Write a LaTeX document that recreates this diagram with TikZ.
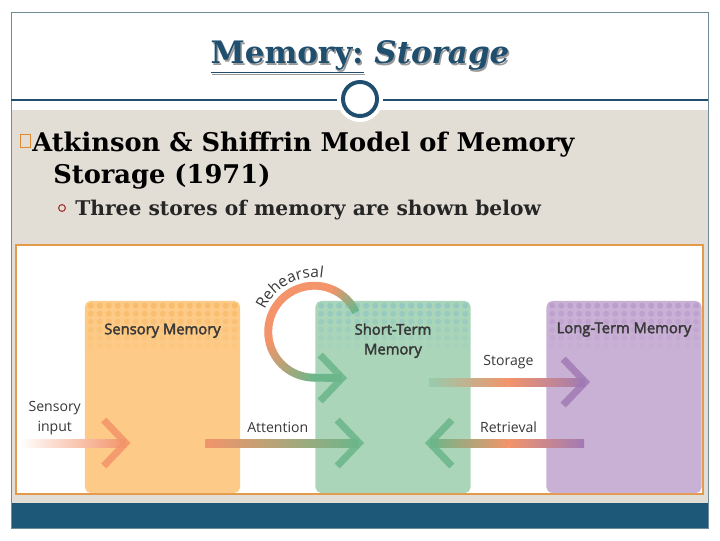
\documentclass[tikz,border=0pt]{standalone}
\usepackage{fontspec}
\setmainfont{DejaVu Serif}
\newfontfamily\labelfont{Open Sans}
\newfontfamily\boxfont[FakeBold=2.5]{Open Sans}
\usetikzlibrary{calc, positioning, decorations.text}

\definecolor{titleblue}{HTML}{1F4E6E}
\definecolor{barblue}{HTML}{1E5878}
\definecolor{slidebeige}{HTML}{E2DED5}
\definecolor{slideframe}{HTML}{6F8A99}
\definecolor{bulletorange}{HTML}{E08A30}
\definecolor{bulletred}{HTML}{A03838}
\definecolor{figframe}{HTML}{E39A4C}
\definecolor{smfill}{HTML}{FDCB87}
\definecolor{smdot}{HTML}{F8B764}
\definecolor{stmfill}{HTML}{AAD5B9}
\definecolor{stmdot}{HTML}{8CC6C3}
\definecolor{ltmfill}{HTML}{C9B1D6}
\definecolor{ltmdot}{HTML}{B898CA}
\definecolor{arroworange}{HTML}{F3946A}
\definecolor{arrowgreen}{HTML}{6BB68A}
\definecolor{arrowpurple}{HTML}{A07AB5}
\definecolor{labeltext}{HTML}{383838}

\tikzset{
  membox/.style={rounded corners=4pt, minimum width=3.875cm, minimum height=4.8cm, inner sep=0pt},
  boxlabel/.style={font=\boxfont\fontsize{10.5}{14}\selectfont, text=labeltext, align=center},
  arrowlabel/.style={font=\labelfont\fontsize{10}{14}\selectfont, text=labeltext, align=center},
  bodytext/.style={font=\bfseries\fontsize{18.3}{21}\selectfont, text=black, inner sep=0pt},
  subtext/.style={font=\bfseries\fontsize{14.4}{17}\selectfont, text=black!85, inner sep=0pt},
  chevron/.style={line width=5pt, line join=miter, opacity=0.85},
}

% dotted band on top of a store
\newcommand{\memdots}[2]{%
  \foreach \row [evaluate=\row as \op using 0.75-0.12*\row] in {0,...,5}
    \foreach \col in {0,...,16}
      \fill[#2, opacity=\op] ($(#1.north west)+(6+\col*9,-5-\row*8)$) circle (3);
}
% shaded arrow shaft
\newcommand{\shaft}[3]{\shade[#3] ($(#1)+(0,-4)$) rectangle ($(#2)+(0,4)$);}
% open arrow head
\newcommand{\chev}[3]{\draw[chevron, #3] ($(#1)+(#2,23)$) -- (#1) -- ($(#1)+(#2,-23)$);}

\begin{document}
\begin{tikzpicture}[x=0.025cm, y=0.025cm]
\useasboundingbox (0,0) rectangle (720,540);
% slide
\fill[white] (0,0) rectangle (720,540);
\fill[slidebeige] (11,37) rectangle (708,430);
\fill[barblue] (11,12) rectangle (708,37);
\draw[slideframe, line width=0.6pt] (11,12) rectangle (708,528);
\draw[titleblue, line width=0.8pt] (11,440) -- (708,440);
\node[circle, fill=white, minimum size=1.15cm] (halo) at (360,441) {};
\node[circle, draw=titleblue, line width=2.8pt, fill=white, minimum size=0.85cm] (ring) at (360,441) {};

% title
\node[font=\bfseries\fontsize{22}{26}\selectfont, text=black!40] (title-shadow) at (361.5,481.5) {\underline{Memory:} \textit{Storage}};
\node[font=\bfseries\fontsize{22}{26}\selectfont, text=titleblue] (title) at (360,483) {\underline{Memory:} \textit{Storage}};

% bullets
\node[draw=bulletorange, line width=0.9pt, minimum width=0.26cm, minimum height=0.34cm, inner sep=0pt] (sq) at (25.5,399) {};
\node[bodytext, anchor=base west] (line1) at (32,388) {Atkinson \& Shiffrin Model of Memory};
\node[bodytext, anchor=base west] (line2) at (53,356) {Storage (1971)};
\node[circle, draw=bulletred, line width=0.8pt, minimum size=0.17cm, inner sep=0pt] (subdot) at (62,332) {};
\node[subtext, anchor=base west] (line3) at (75,324) {Three stores of memory are shown below};

% figure
\draw[figframe, line width=2pt, fill=white] (16,46) rectangle (703,295);
\node[membox, fill=smfill] (sm) at (162.5,143) {};
\node[membox, fill=stmfill] (stm) at (393,143) {};
\node[membox, fill=ltmfill] (ltm) at (624,143) {};
\memdots{sm}{smdot}
\memdots{stm}{stmdot}
\memdots{ltm}{ltmdot}
\node[boxlabel] (sm-label) at ($(sm.north)+(0,-30)$) {Sensory Memory};
\node[boxlabel] (stm-label) at ($(stm.north)+(0,-40)$) {Short-Term\\Memory};
\node[boxlabel] (ltm-label) at ($(ltm.north)+(0,-29)$) {Long-Term Memory};

% arrows
\coordinate (in-s) at ($(sm.west)+(-65,-46)$);
\coordinate (in-t) at ($(sm.west)+(41,-46)$);
\coordinate (att-s) at ($(sm.east)+(-35,-46)$);
\coordinate (att-t) at ($(stm.west)+(44,-46)$);
\coordinate (sto-s) at ($(stm.east)+(-42,15)$);
\coordinate (sto-m) at ($(stm.east)!0.5!(ltm.west)+(0,15)$);
\coordinate (sto-t) at ($(ltm.west)+(39,15)$);
\coordinate (ret-s) at ($(ltm.west)+(38,-46)$);
\coordinate (ret-m) at ($(stm.east)!0.5!(ltm.west)+(0,-46)$);
\coordinate (ret-t) at ($(stm.east)+(-41,-46)$);
\coordinate (reh-c) at ($(stm.north west)+(-1,-31)$);
\coordinate (reh-t) at ($(stm.west)+(27,19)$);

\shaft{in-s}{in-t}{left color=white, right color=arroworange}
\chev{in-t}{-22}{arroworange}
\shaft{att-s}{att-t}{left color=arroworange, right color=arrowgreen}
\chev{att-t}{-22}{arrowgreen}
\shaft{sto-s}{sto-m}{left color=arrowgreen!70, right color=arroworange}
\shaft{sto-m}{sto-t}{left color=arroworange, right color=arrowpurple}
\chev{sto-t}{-22}{arrowpurple}
\shaft{ret-t}{ret-m}{left color=arrowgreen, right color=arroworange}
\shaft{ret-m}{ret-s}{left color=arroworange, right color=arrowpurple}
\chev{ret-t}{22}{arrowgreen}

% rehearsal loop
\foreach \a [evaluate=\a as \p using {int(max(0,min(100,(\a-25)/40*100,(270-\a)/80*100)))}] in {25,30,...,265}
  \draw[arroworange!\p!arrowgreen, line width=5.6pt] ($(reh-c)+(\a:46)$) arc[start angle=\a, delta angle=6, radius=46];
\draw[arrowgreen, line width=5.6pt] ($(reh-c)+(0,-46)$) -- (reh-t);
\chev{reh-t}{-22}{arrowgreen}
\path[decorate, decoration={text along path, text align=center,
  text={|\labelfont\fontsize{11}{13}\selectfont\color{labeltext}|Rehearsal}}]
  ($(reh-c)+(165:54)$) arc[start angle=165, end angle=72, radius=54];

\node[arrowlabel] (in-label) at ($(sm.west)+(-30,-21)$) {Sensory\\input};
\node[arrowlabel] (att-label) at ($(sm.east)!0.5!(stm.west)+(0,-30)$) {Attention};
\node[arrowlabel] (sto-label) at ($(stm.east)!0.5!(ltm.west)+(0,35)$) {Storage};
\node[arrowlabel] (ret-label) at ($(stm.east)!0.5!(ltm.west)+(0,-30)$) {Retrieval};
\end{tikzpicture}
\end{document}
